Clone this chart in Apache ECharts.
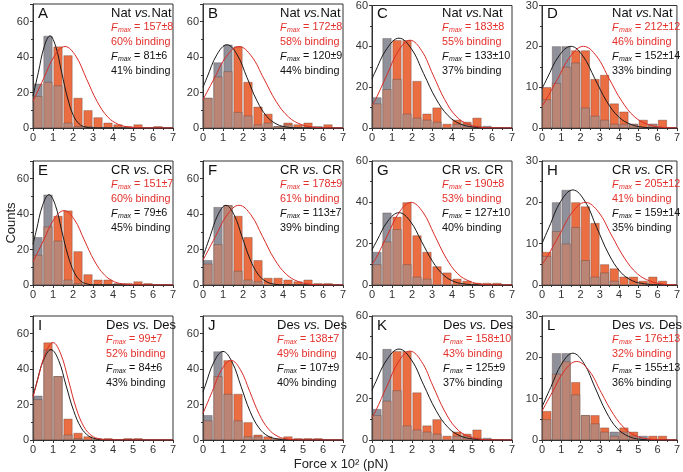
<!DOCTYPE html>
<html><head><meta charset="utf-8">
<script src="https://cdn.jsdelivr.net/npm/echarts@6/dist/echarts.min.js"></script>
<style>html,body{margin:0;padding:0;background:#fff}#c{width:683px;height:472px}</style>
</head><body><div id="c"></div><script>
// ---------- data ----------
const panelLetters = ['A','B','C','D','E','F','G','H','I','J','K','L'];
const binCenters = [0.25,0.75,1.25,1.75,2.25,2.75,3.25,3.75,4.25,4.75,5.25,5.75,6.25,6.75];
const xTickLabels = [0,1,2,3,4,5,6,7];

const grayA = [25,52,24,3,1,1,0,0,0,0,0,0,0,0];
const orangeA = [18,26,46,41,17,10,6,3,2,1,2,0,1,0];
const grayB = [17,37,47,9,7,2,3,1,2,0,0,1,0,0];
const orangeB = [17,29,32,46,26,12,8,1,3,2,3,0,2,0];
const grayC = [15,44,24,7,5,4,3,0,2,2,1,1,0,0];
const orangeC = [12,19,43,43,23,7,10,2,4,3,5,0,0,0];
const grayD = [7,20,20,16,5,3,2,1,1,1,0,1,0,0];
const orangeD = [10,11,15,19,19,12,13,6,4,1,2,1,2,0];
const grayE = [27,51,25,3,1,0,0,0,0,0,0,0,0,0];
const orangeE = [17,33,39,42,19,6,3,3,1,1,2,1,0,0];
const grayF = [14,44,45,8,3,2,0,0,0,0,0,0,0,0];
const orangeF = [12,23,45,39,27,14,4,4,3,2,3,1,1,0];
const grayG = [16,35,27,10,4,3,0,0,0,0,0,0,0,0];
const orangeG = [10,21,33,40,24,16,9,6,3,2,1,1,1,0];
const grayH = [7,20,23,14,6,2,3,1,0,0,0,0,0,0];
const orangeH = [8,13,10,20,19,15,5,4,2,2,1,2,1,0];
const grayI = [25,51,36,3,1,0,0,0,0,0,0,0,0,0];
const orangeI = [23,55,36,12,4,2,1,1,0,1,1,0,0,0];
const grayJ = [14,50,26,11,2,2,0,0,0,0,0,0,0,0];
const orangeJ = [11,36,45,26,10,3,2,1,2,1,1,1,0,0];
const grayK = [15,44,24,7,5,4,3,0,2,2,1,1,0,0];
const orangeK = [12,19,43,43,23,7,10,2,4,3,5,0,0,0];
const grayL = [5,21,21,11,6,4,2,2,2,1,1,0,0,0];
const orangeL = [7,16,19,14,6,6,3,1,3,2,0,1,1,0];

const fitBlackA = [[0,18],[0.27,31.5],[0.56,45.9],[0.85,52],[1.14,45.9],[1.43,31.5],[1.73,16.9],[2.02,7],[2.31,2.3],[2.6,0.6],[2.9,0.1],[7,0]];
const fitRedA = [[0,15],[0.53,27.9],[1.07,40.6],[1.6,46],[2.14,40.6],[2.67,27.9],[3.21,14.9],[3.74,6.2],[4.28,2],[4.81,0.5],[5.35,0.1],[7,0]];
const fitBlackB = [[0,23],[0.2,28.5],[0.7,41.5],[1.2,47],[1.7,41.5],[2.2,28.5],[2.7,15.3],[3.2,6.4],[3.7,2.1],[4.2,0.5],[4.7,0.1],[7,0]];
const fitRedB = [[0,16],[0.56,27.9],[1.18,40.6],[1.8,46],[2.42,40.6],[3.04,27.9],[3.66,14.9],[4.28,6.2],[4.9,2],[5.52,0.5],[6.14,0.1],[7,0]];
const fitBlackC = [[0,24],[0.12,26.7],[0.74,38.8],[1.35,44],[1.97,38.8],[2.58,26.7],[3.2,14.3],[3.81,6],[4.43,1.9],[5.04,0.5],[5.66,0.1],[7,0]];
const fitRedC = [[0,11],[0.18,14],[0.75,26.1],[1.33,37.9],[1.9,43],[2.48,37.9],[3.05,26.1],[3.63,14],[4.2,5.8],[4.78,1.9],[5.35,0.5],[5.93,0.1],[7,0]];
const fitBlackD = [[0,9.6],[0.26,12.1],[0.88,17.65],[1.5,20],[2.12,17.65],[2.74,12.1],[3.36,6.5],[3.98,2.7],[4.6,0.9],[5.22,0.2],[5.84,0.04],[7,0]];
const fitRedD = [[0,5.4],[0.16,6.5],[0.82,12.1],[1.49,17.65],[2.15,20],[2.82,17.65],[3.48,12.1],[4.15,6.5],[4.81,2.7],[5.48,0.9],[6.14,0.2],[7,0.02]];
const fitBlackE = [[0,23],[0.17,30.9],[0.48,45],[0.8,51],[1.12,45],[1.43,30.9],[1.75,16.6],[2.07,6.9],[2.39,2.2],[2.7,0.6],[3.02,0.1],[7,0]];
const fitRedE = [[0,13],[0.54,25.5],[1.05,37.1],[1.55,42],[2.06,37.1],[2.56,25.5],[3.07,13.6],[3.57,5.7],[4.08,1.8],[4.58,0.5],[5.09,0.1],[7,0]];
const fitBlackF = [[0,16],[0.35,27.3],[0.75,39.7],[1.15,45],[1.55,39.7],[1.95,27.3],[2.35,14.6],[2.75,6.1],[3.15,2],[3.55,0.5],[3.95,0.1],[7,0]];
const fitRedF = [[0,14],[0.62,27.3],[1.21,39.7],[1.8,45],[2.39,39.7],[2.98,27.3],[3.57,14.6],[4.16,6.1],[4.75,2],[5.34,0.5],[5.93,0.1],[7,0]];
const fitBlackG = [[0,17],[0.23,21.2],[0.79,30.9],[1.35,35],[1.91,30.9],[2.47,21.2],[3.03,11.4],[3.59,4.7],[4.15,1.5],[4.71,0.4],[5.27,0.1],[7,0]];
const fitRedG = [[0,10],[0.2,13],[0.78,24.3],[1.37,35.3],[1.95,40],[2.54,35.3],[3.12,24.3],[3.71,13],[4.29,5.4],[4.88,1.8],[5.46,0.4],[6.05,0.1],[7,0]];
const fitBlackH = [[0,10],[0.36,13.9],[0.98,20.3],[1.6,23],[2.22,20.3],[2.84,13.9],[3.46,7.5],[4.08,3.1],[4.7,1],[5.32,0.3],[5.94,0.05],[7,0]];
const fitRedH = [[0,5],[0.23,6.5],[0.9,12.1],[1.58,17.65],[2.25,20],[2.93,17.65],[3.6,12.1],[4.28,6.5],[4.95,2.7],[5.63,0.9],[6.3,0.2],[7,0.03]];
const fitBlackI = [[0,25],[0.15,30.9],[0.52,45],[0.9,51],[1.28,45],[1.65,30.9],[2.03,16.6],[2.41,6.9],[2.79,2.2],[3.16,0.6],[3.54,0.1],[7,0]];
const fitRedI = [[0,24],[0.22,33.4],[0.61,48.5],[1,55],[1.39,48.5],[1.78,33.4],[2.16,17.9],[2.55,7.4],[2.94,2.4],[3.33,0.6],[3.72,0.1],[7,0]];
const fitBlackJ = [[0,27],[0.1,30.3],[0.55,44.1],[1,50],[1.45,44.1],[1.9,30.3],[2.35,16.2],[2.8,6.8],[3.25,2.2],[3.7,0.6],[4.15,0.1],[7,0]];
const fitRedJ = [[0,15],[0.46,27.3],[0.93,39.7],[1.4,45],[1.87,39.7],[2.34,27.3],[2.81,14.6],[3.28,6.1],[3.75,2],[4.22,0.5],[4.69,0.1],[7,0]];
const fitBlackK = [[0,24],[0.12,26.7],[0.74,38.8],[1.35,44],[1.97,38.8],[2.58,26.7],[3.2,14.3],[3.81,6],[4.43,1.9],[5.04,0.5],[5.66,0.1],[7,0]];
const fitRedK = [[0,11],[0.18,14],[0.75,26.1],[1.33,37.9],[1.9,43],[2.48,37.9],[3.05,26.1],[3.63,14],[4.2,5.8],[4.78,1.9],[5.35,0.5],[5.93,0.1],[7,0]];
const fitBlackL = [[0,8],[0.45,12.7],[1.03,18.5],[1.6,21],[2.18,18.5],[2.75,12.7],[3.33,6.8],[3.9,2.8],[4.48,0.9],[5.05,0.2],[5.63,0.05],[7,0]];
const fitRedL = [[0,7],[0.53,11.5],[1.17,16.8],[1.8,19],[2.44,16.8],[3.07,11.5],[3.71,6.2],[4.34,2.6],[4.98,0.8],[5.61,0.2],[6.25,0.04],[7,0]];

const yMaxes = [70,70,60,30, 70,70,60,30, 70,70,60,30];
const yIntervals = [20,20,20,10, 20,20,20,10, 20,20,20,10];
const pairNames = ['Nat','Nat','Nat','Nat','CR','CR','CR','CR','Des','Des','Des','Des'];
const redFmax = ['157±8','172±8','183±8','212±12','151±7','178±9','190±8','205±12','99±7','138±7','158±10','176±13'];
const redBinding = ['60%','58%','55%','46%','60%','61%','53%','41%','52%','49%','43%','32%'];
const blackFmax = ['81±6','120±9','133±10','152±14','79±6','113±7','127±10','159±14','84±6','107±9','125±9','155±13'];
const blackBinding = ['41%','44%','37%','33%','45%','39%','40%','35%','43%','40%','37%','36%'];
const xTitle = 'Force x 10² (pN)';
const yTitle = 'Counts';

const grays = [grayA,grayB,grayC,grayD,grayE,grayF,grayG,grayH,grayI,grayJ,grayK,grayL];
const oranges = [orangeA,orangeB,orangeC,orangeD,orangeE,orangeF,orangeG,orangeH,orangeI,orangeJ,orangeK,orangeL];
const fitsBlack = [fitBlackA,fitBlackB,fitBlackC,fitBlackD,fitBlackE,fitBlackF,fitBlackG,fitBlackH,fitBlackI,fitBlackJ,fitBlackK,fitBlackL];
const fitsRed = [fitRedA,fitRedB,fitRedC,fitRedD,fitRedE,fitRedF,fitRedG,fitRedH,fitRedI,fitRedJ,fitRedK,fitRedL];

// ---------- layout / style ----------
const FAM = '"Liberation Sans", Arial, sans-serif';
const GRAY = '#8f9099', ORANGE = '#eb6d42', BROWN = '#ba8575';
const RED = '#e3302b', INK = '#1a1a1a';
const colLeft = [33, 203, 372, 542];
const rowTop = [4, 161, 316];
const PW = 140, PH = 124;
const textLeft = [111,280,442,612, 111,280,442,612, 106,277,443,612];

const mctx = document.createElement('canvas').getContext('2d');
function tw(txt, font) { mctx.font = font; return mctx.measureText(txt).width; }

const FS = 10.8, SUBFS = 7;
const fN = FS + 'px ' + FAM, fI = 'italic ' + FS + 'px ' + FAM, fS = 'italic ' + SUBFS + 'px ' + FAM;
const hN = '13px ' + FAM, hI = 'italic 13px ' + FAM;

function txt(x, y, s, font, fill) {
  return {type: 'text', x: x, y: y, silent: true, z: 100, style: {text: s, font: font, fill: fill, verticalAlign: 'middle', align: 'left'}};
}
function fmaxLine(x, y, val, fill) {
  const out = [];
  out.push(txt(x, y, 'F', fI, fill));
  const w1 = tw('F', fI);
  out.push(txt(x + w1 + 0.3, y + 3, 'max', fS, fill));
  const w2 = tw('max', fS);
  out.push(txt(x + w1 + 0.3 + w2, y, ' = ' + val, fN, fill));
  return out;
}

const grids = [], xAxes = [], yAxes = [], series = [], graphics = [];
panelLetters.forEach((letter, i) => {
  const r = Math.floor(i / 4), c = i % 4;
  const left = colLeft[c], top = rowTop[r];
  grids.push({left: left, top: top, width: PW, height: PH, show: true, borderColor: '#333', borderWidth: 1});
  xAxes.push({type: 'value', gridIndex: i, min: 0, max: 7, interval: 1,
    axisLine: {show: true, onZero: false, lineStyle: {color: '#333', width: 1}},
    axisTick: {show: true, length: 3, lineStyle: {color: '#333'}},
    minorTick: {show: true, splitNumber: 2, length: 2, lineStyle: {color: '#333'}},
    splitLine: {show: false},
    axisLabel: {fontSize: 11, color: '#333', margin: 4, fontFamily: FAM,
      formatter: v => xTickLabels.indexOf(v) >= 0 ? String(v) : ''}});
  yAxes.push({type: 'value', gridIndex: i, min: 0, max: yMaxes[i], interval: yIntervals[i],
    axisLine: {show: true, lineStyle: {color: '#333', width: 1}},
    axisTick: {show: true, length: 3, lineStyle: {color: '#333'}},
    minorTick: {show: true, splitNumber: 2, length: 2, lineStyle: {color: '#333'}},
    splitLine: {show: false},
    axisLabel: {fontSize: 11, color: '#333', margin: 4, fontFamily: FAM,
      showMaxLabel: yMaxes[i] % yIntervals[i] === 0}});

  const g = grays[i], o = oranges[i];
  const tall = [], low = [];
  binCenters.forEach((x, k) => {
    const hi = Math.max(g[k], o[k]), lo = Math.min(g[k], o[k]);
    if (hi > 0) tall.push({value: [x, hi], itemStyle: {color: g[k] > o[k] ? GRAY : (g[k] === o[k] ? BROWN : ORANGE)}});
    if (lo > 0) low.push({value: [x, lo]});
  });
  const barStyle = {borderColor: 'rgba(80,55,50,0.55)', borderWidth: 0.6};
  series.push({type: 'bar', xAxisIndex: i, yAxisIndex: i, barWidth: 9, barGap: '-100%', silent: true,
    itemStyle: barStyle, data: tall});
  series.push({type: 'bar', xAxisIndex: i, yAxisIndex: i, barWidth: 9, barGap: '-100%', silent: true,
    itemStyle: Object.assign({color: BROWN}, barStyle), data: low});
  series.push({type: 'line', xAxisIndex: i, yAxisIndex: i, data: fitsBlack[i], smooth: 0.4, symbol: 'none', silent: true,
    lineStyle: {color: INK, width: 1}, z: 5});
  series.push({type: 'line', xAxisIndex: i, yAxisIndex: i, data: fitsRed[i], smooth: 0.4, symbol: 'none', silent: true,
    lineStyle: {color: '#d92b27', width: 1}, z: 5});

  // texts
  graphics.push(txt(left + 5, top + 10, letter, '15px ' + FAM, '#111'));
  const tx = textLeft[i];
  const ls = 14.5;
  const sep = pairNames[i] === 'Nat' ? '' : ' ';
  const p1 = pairNames[i] + ' ';
  graphics.push(txt(tx, top + 9, p1, hN, '#111'));
  const wv = tw(p1, hN);
  graphics.push(txt(tx + wv, top + 9, 'vs.', hI, '#111'));
  const wvs = tw('vs.', hI);
  graphics.push(txt(tx + wv + wvs, top + 9, sep + pairNames[i], hN, '#111'));
  fmaxLine(tx, top + 9 + ls, redFmax[i], RED).forEach(e => graphics.push(e));
  graphics.push(txt(tx, top + 9 + 2 * ls, redBinding[i] + ' binding', fN, RED));
  fmaxLine(tx, top + 9 + 3 * ls, blackFmax[i], '#111').forEach(e => graphics.push(e));
  graphics.push(txt(tx, top + 9 + 4 * ls, blackBinding[i] + ' binding', fN, '#111'));
});

graphics.push({type: 'text', x: 11, y: 223, rotation: Math.PI / 2, silent: true, style: {text: yTitle, font: '13px ' + FAM, fill: '#222', align: 'center', verticalAlign: 'middle'}});
graphics.push({type: 'text', x: 341, y: 464, silent: true, style: {text: xTitle, font: '13px ' + FAM, fill: '#222', align: 'center', verticalAlign: 'middle'}});

const chart = echarts.init(document.getElementById('c'), null, {renderer: 'canvas'});
chart.setOption({
  animation: false,
  backgroundColor: '#fff',
  grid: grids, xAxis: xAxes, yAxis: yAxes, series: series, graphic: graphics
});
</script></body></html>
